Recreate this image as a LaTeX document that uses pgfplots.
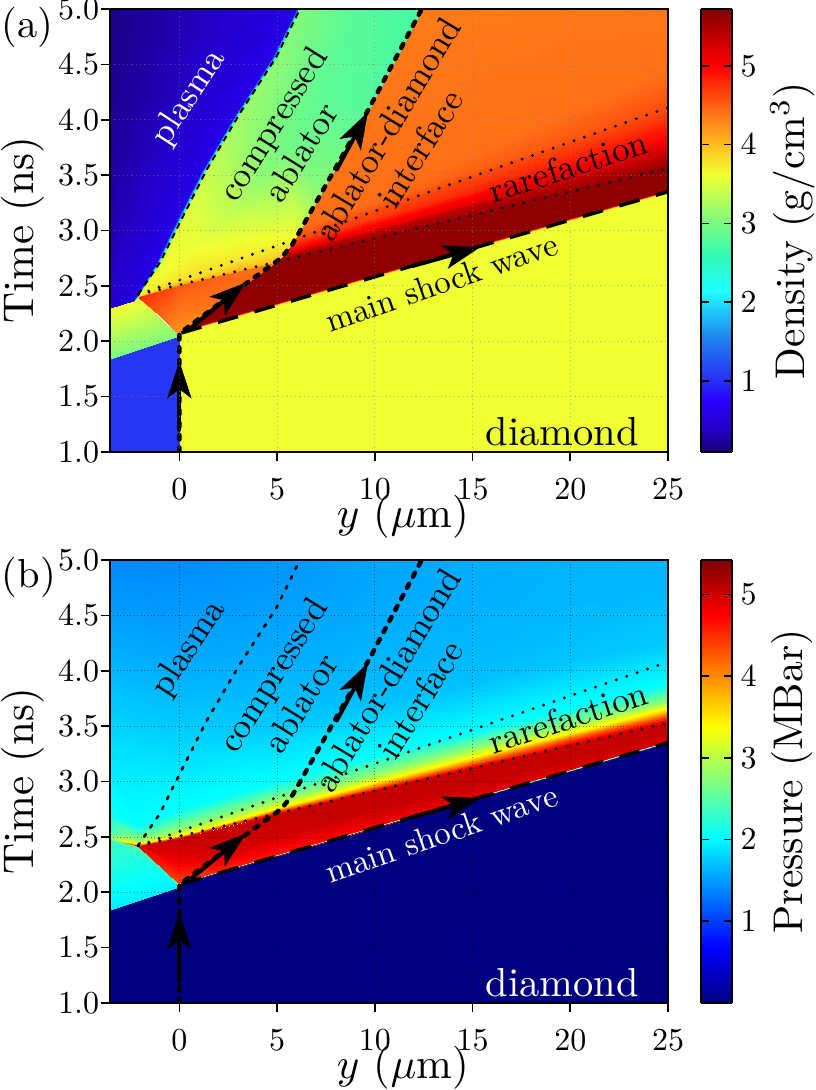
\documentclass[border=0pt]{standalone}
\usepackage{pgfplots}
\pgfplotsset{compat=1.18}
\usetikzlibrary{arrows.meta}

% 1 px of the reference = 1 pt here
\pgfplotsset{
  colormap={density}{
    rgb255(10pt)=(25,0,120);
    rgb255(40pt)=(35,0,200);
    rgb255(75pt)=(40,0,255);
    rgb255(100pt)=(40,45,245);
    rgb255(160pt)=(30,140,240);
    rgb255(215pt)=(30,255,255);
    rgb255(260pt)=(50,250,180);
    rgb255(300pt)=(120,250,130);
    rgb255(362pt)=(240,255,50);
    rgb255(400pt)=(255,190,30);
    rgb255(435pt)=(255,125,25);
    rgb255(470pt)=(255,60,10);
    rgb255(500pt)=(255,0,0);
    rgb255(540pt)=(190,0,0);
    rgb255(572pt)=(130,0,0);
  },
  panel/.style={
    scale only axis, width=558pt, height=443pt,
    xmin=-3.55, xmax=25, ymin=1, ymax=5,
    xtick={0,5,...,25}, ytick={1,1.5,...,5},
    yticklabel style={/pgf/number format/fixed, /pgf/number format/fixed zerofill, /pgf/number format/precision=1},
    tick align=outside, tick pos=left,
    xtick pos=bottom,
    major tick length=9pt,
    every tick/.style={black, line width=1.6pt},
    axis line style={line width=2pt},
    tick label style={scale=3.2, inner sep=0.4pt},
    xticklabel style={yshift=-5pt},
    grid=major, axis on top,
    xlabel={$y$ ($\mu$m)}, ylabel={Time (ns)},
    every axis x label/.style={at={(axis description cs:0.525,-0.146)}, anchor=center, scale=4.3},
    every axis y label/.style={at={(axis description cs:-0.156,0.5)}, anchor=center, rotate=90, scale=4.3},
    colorbar sampled,
    colorbar shift/.style={xshift=16pt},
  },
  cbar/.style={
    width=31pt, samples=280,
    ytick={1,2,3,4,5},
    major tick length=8pt,
    every tick/.style={black, line width=1.6pt},
    axis line style={line width=2pt},
    tick label style={scale=3.2, inner sep=0.4pt, xshift=2pt},
    ylabel={#1},
    every axis y label/.style={at={(axis description cs:2.94,0.5)}, anchor=center, rotate=90, scale=4.15},
  },
  field/.style={surf, shader=interp, mesh/cols=#1, point meta=explicit, mesh/check=false},
  thick dash/.style={black, line width=4.5pt, line cap=round, dash pattern=on 4.5pt off 8pt},
  shock/.style={black, line width=3.5pt, dash pattern=on 21pt off 17pt},
  dots/.style={black, line width=3.2pt, line cap=round, dash pattern=on 0pt off 11pt},
  arrow/.style={black, line width=4pt, line cap=round, -{Stealth[length=37pt,width=24pt,inset=9pt]}},
}
\tikzset{lab/.style={scale=3.5}, big/.style={scale=4.05}}

\begin{document}
\begin{tikzpicture}[x=1pt,y=1pt]
\path[use as bounding box] (0,0) rectangle (815,1090);

\begin{axis}[panel, at={(110pt,638pt)},
  colormap name=density, point meta min=0.1, point meta max=5.72,
  colorbar style={cbar={Density (g/cm$^3$)}},
  grid style={gray, opacity=0.45, line width=1.2pt, dash pattern=on 1.3pt off 3pt},
]
% diamond, unshocked
\addplot[field=2] table[meta=c] {
x y c
0 1 3.62
25 1 3.62
0 2.07 3.62
25 3.35 3.62
};
% plasma-side blue
\addplot[field=2] table[meta=c] {
x y c
-3.55 1 1.05
0 1 1.05
-3.55 1.84 1.05
0 2.05 1.05
};
% wedge left of the origin
\addplot[field=2] table[meta=c] {
x y c
-3.55 1.84 3.0
0 2.05 3.05
-3.55 2.30 3.65
-2.12 2.40 3.65
};
% fan above lower dotted line
\addplot[field=2] table[meta=c] {
x y c
4.92 2.715 5.65
25 3.56 5.65
5.28 2.767 5.45
25 3.70 5.35
5.5 2.815 5.0
25 3.835 5.0
5.91 2.915 4.65
25 4.11 4.62
6.31 3.04 4.42
25 4.44 4.42
12.4 5 4.36
25 5 4.38
};
% dark band behind the shock
\addplot[field=2] table[meta=c] {
x y c
0 2.07 3.62
25 3.35 3.62
0 2.09 5.65
25 3.37 5.65
4.92 2.715 5.65
25 3.56 5.65
};
% orange triangle
\addplot[field=3] table[meta=c] {
x y c
-2.12 2.40 4.8
-2.12 2.40 4.8
-2.12 2.40 4.8
-1 2.23 4.5
-1 2.32 4.55
-1 2.46 4.7
0 2.06 4.2
0 2.28 4.4
0 2.508 4.55
3.4 2.52 4.5
3.4 2.58 4.45
3.4 2.65 4.4
4.92 2.715 4.4
4.92 2.715 4.4
4.92 2.715 4.4
};
% sliver between the dotted lines
\addplot[field=2] table[meta=c] {
x y c
-2.12 2.40 4.6
-2.12 2.41 3.8
0 2.508 4.2
0 2.55 3.75
3 2.63 4.1
3 2.735 3.75
4.92 2.715 4.0
5.85 2.91 3.7
};
% compressed ablator
\addplot[field=3] table[meta=c] {
x y c
-2.12 2.40 3.7
-2.12 2.405 3.7
-2.1 2.41 3.7
-1 2.71 3.55
-0.8 2.6 3.65
-1 2.488 3.75
0.02 3.07 3.55
0.7 2.85 3.6
1 2.612 3.8
1.4 3.55 3.4
2.8 3.2 3.35
3.5 2.767 3.75
2.2 3.8 3.3
4.2 3.5 3.1
5.85 2.91 3.65
3.1 4.06 3.2
5.6 3.8 2.95
7.2 3.32 3.1
4.97 4.57 3.1
7.2 4.2 2.85
9.7 4.1 2.8
6.17 5 3.05
9.3 5 2.8
12.4 5 2.72
};
% plasma
\addplot[field=3] table[meta=c] {
x y c
-3.55 5 0.15
5.95 5 0.6
6.17 5 3.05
-3.55 4.57 0.17
4.75 4.57 0.6
4.97 4.57 3.1
-3.55 4.06 0.2
2.88 4.06 0.6
3.1 4.06 3.2
-3.55 3.55 0.25
1.18 3.55 0.6
1.4 3.55 3.4
-3.55 3.07 0.3
-0.2 3.07 0.6
0.02 3.07 3.55
-3.55 2.71 0.36
-1.22 2.71 0.6
-1 2.71 3.55
-3.55 2.30 0.45
-2.35 2.365 0.6
-2.12 2.40 3.7
};

% region boundaries
\addplot[black, line width=2pt, dash pattern=on 6pt off 5pt] coordinates {(-2.12,2.42) (-1,2.71) (0.02,3.07) (1.4,3.55) (3.1,4.06) (4.97,4.57) (6.17,5)};
\addplot[dots] coordinates {(-2.1,2.42) (25,4.11)};
\addplot[dots] coordinates {(-2.1,2.42) (25,3.56)};
\addplot[thick dash] coordinates {(0,1) (0,2.07) (3.4,2.52) (5.2,2.75) (5.8,2.88) (9.7,4.1) (12.4,5)};
\addplot[shock] coordinates {(0.1,2.075) (25,3.35)};
\addplot[arrow] coordinates {(0,1.2) (0,1.82)};
\addplot[arrow] coordinates {(0.65,2.13) (3.4,2.53)};
\addplot[arrow] coordinates {(8.05,3.55) (9.65,4.07)};
\addplot[arrow] coordinates {(11.95,2.68) (15.4,2.85)};

\node[white, lab, rotate=57] at (axis cs:0.5,4.2) {plasma};
\node[lab, rotate=58] at (axis cs:4.9,3.95) {compressed};
\node[lab, rotate=58] at (axis cs:6.2,3.71) {ablator};
\node[lab, rotate=59] at (axis cs:10.65,3.92) {ablator-diamond};
\node[lab, rotate=58] at (axis cs:12.3,3.74) {interface};
\node[lab, rotate=18] at (axis cs:19.9,3.58) {rarefaction};
\node[scale=3.3, rotate=19] at (axis cs:13.4,2.53) {main shock wave};
\node[big] at (axis cs:19.6,1.18) {diamond};
\end{axis}
\node[big, anchor=west, inner sep=0pt] at (1,1063) {(a)};

\begin{axis}[panel, at={(110pt,87pt)},
  colormap/jet, point meta min=0, point meta max=5.42,
  colorbar style={cbar={Pressure (MBar)}},
  grid style={black, opacity=0.45, line width=0.7pt, dash pattern=on 0.8pt off 2.6pt},
]
% unshocked diamond
\addplot[field=3] table[meta=c] {
x y c
-3.55 1 0
0 1 0
25 1 0
-3.55 1.84 0
0 2.07 0
25 3.36 0
};
% wedge
\addplot[field=2] table[meta=c] {
x y c
-3.55 1.84 1.95
0 2.05 1.95
-3.55 2.48 2.35
-2.12 2.42 2.5
};
\addplot[field=2] table[meta=c] {
x y c
0 2.06 2.2
0.1 2.07 4.4
-2.12 2.42 2.4
-2.06 2.42 4.6
};
% high pressure band behind the shock
\addplot[field=8] table[meta=c] {
x y c
-2.12 2.42 4.6
0 2.07 4.35
2 2.174 4.5
5 2.326 4.6
10 2.582 4.75
15 2.838 4.85
20 3.094 4.9
25 3.35 4.95
-2.12 2.42 4.8
0 2.28 4.85
2 2.34 4.95
5 2.52 5.0
10 2.75 5.05
15 2.98 5.05
20 3.21 5.05
25 3.45 5.05
-2.12 2.42 5.0
0 2.49 5.05
2 2.575 5.05
5 2.71 5.05
10 2.915 5.05
15 3.12 5.05
20 3.325 5.05
25 3.53 5.05
};
% thin edge on the shock front
\addplot[field=2] table[meta=c] {
x y c
0 2.07 0
25 3.35 0
0 2.085 4.35
25 3.365 4.95
};
% rarefaction and the field above it
\addplot[field=8] table[meta=c] {
x y c
-3.55 2.48 2.75
-2.12 2.42 4.8
0 2.49 5.0
5 2.71 5.05
10 2.915 5.05
15 3.12 5.05
20 3.325 5.05
25 3.53 5.05
-3.55 2.49 2.7
-2.12 2.43 4.0
0 2.495 4.2
5 2.73 4.2
10 2.95 4.2
15 3.17 4.2
20 3.39 4.2
25 3.6 4.2
-3.55 2.52 2.55
-2.12 2.44 3.4
0 2.505 3.4
5 2.76 3.4
10 3.0 3.4
15 3.22 3.4
20 3.44 3.4
25 3.66 3.4
-3.55 2.55 2.4
-2.12 2.47 2.8
0 2.57 2.8
5 2.83 2.8
10 3.07 2.8
15 3.3 2.8
20 3.52 2.8
25 3.73 2.8
-3.55 2.7 2.1
-2.12 2.6 2.05
0 2.74 2.05
5 3.0 2.05
10 3.24 2.05
15 3.45 2.05
20 3.66 2.05
25 3.88 2.05
-3.55 3.2 1.9
-2.12 3.2 1.88
0 3.3 1.82
5 3.5 1.75
10 3.7 1.7
15 3.9 1.7
20 4.1 1.72
25 4.25 1.75
-3.55 4 1.65
-2.12 4 1.62
0 4 1.6
5 4.2 1.58
10 4.4 1.6
15 4.5 1.62
20 4.6 1.65
25 4.7 1.66
-3.55 5 1.4
-2.12 5 1.4
0 5 1.42
5 5 1.47
10 5 1.55
15 5 1.6
20 5 1.63
25 5 1.65
};

\addplot[black, line width=2.6pt, line cap=round, dash pattern=on 3pt off 8pt] coordinates {(-2.12,2.42) (-1,2.71) (0.02,3.07) (1.4,3.55) (3.1,4.06) (4.97,4.57) (6.17,5)};
\addplot[dots] coordinates {(-2.1,2.42) (25,4.08)};
\addplot[dots] coordinates {(-2.1,2.42) (25,3.53)};
\addplot[thick dash] coordinates {(0,1) (0,2.07) (3.4,2.52) (5.2,2.75) (5.8,2.88) (9.7,4.1) (12.4,5)};
\addplot[shock] coordinates {(0.1,2.075) (25,3.35)};
\addplot[arrow] coordinates {(0,1.2) (0,1.82)};
\addplot[arrow] coordinates {(0.65,2.13) (3.4,2.53)};
\addplot[arrow] coordinates {(8.05,3.55) (9.65,4.07)};
\addplot[arrow] coordinates {(11.95,2.68) (15.4,2.85)};

\node[lab, rotate=57] at (axis cs:0.5,4.2) {plasma};
\node[lab, rotate=58] at (axis cs:4.9,3.95) {compressed};
\node[lab, rotate=58] at (axis cs:6.2,3.71) {ablator};
\node[lab, rotate=59] at (axis cs:10.65,3.92) {ablator-diamond};
\node[lab, rotate=58] at (axis cs:12.3,3.74) {interface};
\node[lab, rotate=18] at (axis cs:19.9,3.58) {rarefaction};
\node[white, scale=3.3, rotate=19] at (axis cs:13.4,2.53) {main shock wave};
\node[white, big] at (axis cs:19.6,1.18) {diamond};
\end{axis}
\node[big, anchor=west, inner sep=0pt] at (1,513) {(b)};
\end{tikzpicture}
\end{document}
